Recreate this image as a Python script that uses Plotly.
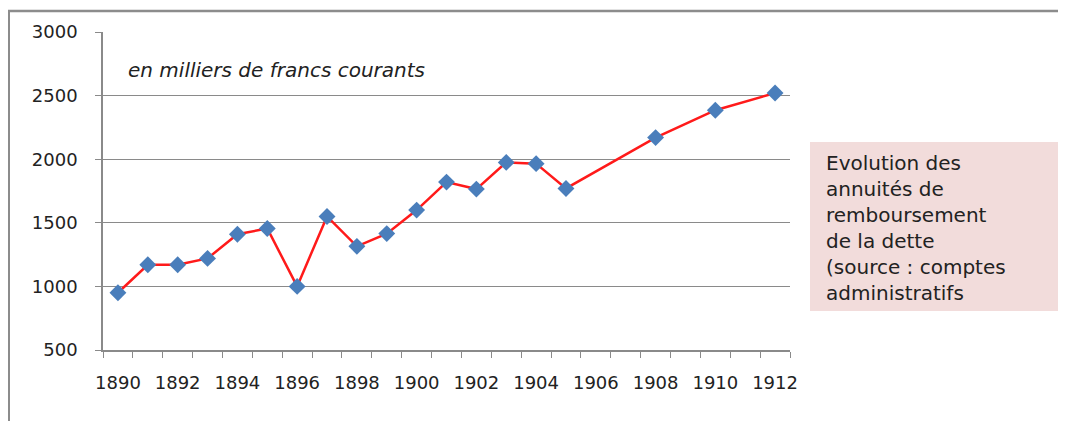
import plotly.graph_objects as go

# Data
years = [1890, 1891, 1892, 1893, 1894, 1895, 1896, 1897, 1898, 1899, 1900,
         1901, 1902, 1903, 1904, 1905, 1908, 1910, 1912]
annuites = [950, 1170, 1170, 1220, 1410, 1455, 1000, 1550, 1315, 1415, 1600,
            1820, 1765, 1975, 1965, 1770, 2170, 2385, 2520]
tick_years = list(range(1890, 1913, 2))
tick_labels = [str(y) for y in tick_years]
boundaries = [y - 0.5 for y in range(1890, 1914)]
y_ticks = [500, 1000, 1500, 2000, 2500, 3000]

OFF = 8  # page offset of the figure
W, H = 1066 - OFF, 421 - OFF
L, R, T, B = 103 - OFF, 790 - OFF, 32 - OFF, 350 - OFF


def px(x):
    return (x - OFF - L) / (R - L)


def py(y):
    return (B - (y - OFF)) / (B - T)


fig = go.Figure()
fig.add_trace(go.Scatter(
    x=years, y=annuites, mode="lines+markers",
    line=dict(color="#ff1a1a", width=2.5),
    marker=dict(symbol="diamond", size=13, color="#4a7ebb"),
    showlegend=False, hoverinfo="x+y",
))
# invisible helper trace so the label axis is drawn
fig.add_trace(go.Scatter(
    x=[years[0]], y=[annuites[0]], xaxis="x2", mode="markers",
    marker=dict(opacity=0), showlegend=False, hoverinfo="skip",
))

axis_col = "#8a8a8a"
font_col = "#222222"

fig.update_layout(
    width=W, height=H,
    margin=dict(l=L, r=W - R, t=T, b=H - B),
    paper_bgcolor="white", plot_bgcolor="white",
    font=dict(family="DejaVu Sans", color=font_col),
    xaxis=dict(
        range=[1889.5, 1912.5], tickmode="array", tickvals=boundaries,
        ticktext=[""] * len(boundaries), ticks="outside", ticklen=6,
        tickcolor=axis_col, tickwidth=1.2, showgrid=False, zeroline=False,
        showline=True, linecolor=axis_col, linewidth=1.5,
    ),
    xaxis2=dict(
        range=[1889.5, 1912.5], overlaying="x", side="bottom",
        tickmode="array", tickvals=tick_years, ticktext=tick_labels,
        ticks="", showgrid=False, zeroline=False, showline=False,
        tickfont=dict(size=18, family="DejaVu Sans", color=font_col),
        ticklabelstandoff=20,
    ),
    yaxis=dict(
        range=[500, 3000], tickmode="array", tickvals=y_ticks,
        ticks="outside", ticklen=6, tickcolor=axis_col,
        showgrid=True, gridcolor=axis_col, gridwidth=1.2, zeroline=False,
        showline=True, linecolor=axis_col, linewidth=1.5,
        tickfont=dict(size=18, family="DejaVu Sans", color=font_col),
        ticklabelstandoff=14,
    ),
)

# Outer frame (top and left edges)
fig.add_shape(type="line", xref="paper", yref="paper",
              x0=px(8), x1=px(1070), y0=py(11), y1=py(11),
              line=dict(color="#8c8c8c", width=2.5), layer="above")
fig.add_shape(type="line", xref="paper", yref="paper",
              x0=px(9), x1=px(9), y0=py(11), y1=py(425),
              line=dict(color="#8c8c8c", width=2), layer="above")

# Pink text box
fig.add_shape(type="rect", xref="paper", yref="paper",
              x0=px(810), x1=px(1070), y0=py(142), y1=py(311),
              fillcolor="#f2dcdb", line=dict(width=0), layer="below")

fig.add_annotation(
    xref="paper", yref="paper", x=px(824), y=py(228),
    xanchor="left", yanchor="middle", align="left", showarrow=False,
    text="Evolution des<br>annuités de<br>remboursement<br>de la dette<br>(source : comptes<br>administratifs",
    font=dict(size=20, family="DejaVu Sans", color=font_col),
)

fig.add_annotation(
    xref="paper", yref="paper", x=px(126), y=py(70),
    xanchor="left", yanchor="middle", showarrow=False,
    text="<i>en milliers de francs courants</i>",
    font=dict(size=20, family="DejaVu Sans", color=font_col),
)

fig.write_html("out.html")
